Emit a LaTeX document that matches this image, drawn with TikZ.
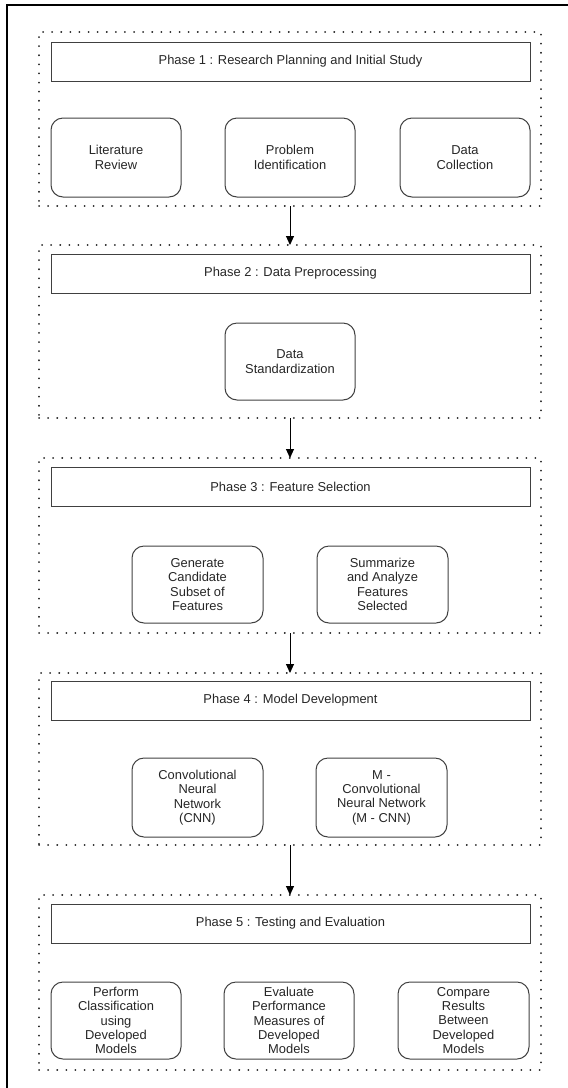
\documentclass[tikz,border=0pt]{standalone}
\usepackage{fontspec}
\setmainfont{Liberation Sans}
\usetikzlibrary{arrows.meta}
\begin{document}
\begin{tikzpicture}[x=1pt,y=-1pt,
 phase/.style={draw=black!85, line width=1.9pt, line cap=round, dash pattern=on 0.1pt off 9pt, anchor=north west, inner sep=0pt, outer sep=0pt, minimum width=502pt},
 title/.style={draw=black!75, line width=1pt, anchor=north west, inner sep=0pt, outer sep=0pt, minimum width=479pt, minimum height=39pt, font=\fontsize{12.9}{14.4}\selectfont, text=black!85},
 task/.style={draw=black!75, line width=1pt, rounded corners=12pt, anchor=north west, inner sep=0pt, outer sep=0pt, minimum height=79pt, align=center, font=\fontsize{12.9}{14.4}\selectfont, text=black!85},
 arr/.style={-{Triangle[width=8pt,length=9pt]}, line width=1pt, black}
]
\useasboundingbox (0,0) rectangle (568,1088);
\draw[line width=1.5pt, black] (7,1090) -- (7,5) -- (570,5);

% Phase 1
\node[phase, minimum height=174pt] (p1) at (39,32) {};
\node[title] (t1) at (51,42) {Phase 1 : Research Planning and Initial Study};
\node[task, minimum width=130pt] (a1) at (51,118) {Literature\\Review};
\node[task, minimum width=130pt] (a2) at (225,118) {Problem\\Identification};
\node[task, minimum width=130pt] (a3) at (400,118) {Data\\Collection};

% Phase 2
\node[phase, minimum height=173pt] (p2) at (39,245) {};
\node[title] (t2) at (51,254) {Phase 2 : Data Preprocessing};
\node[task, minimum width=130pt, minimum height=77pt] (b1) at (225,323) {Data\\Standardization};

% Phase 3
\node[phase, minimum height=175pt] (p3) at (39,458) {};
\node[title] (t3) at (51,467) {Phase 3 : Feature Selection};
\node[task, minimum width=131pt, minimum height=77pt] (c1) at (132,546) {Generate\\Candidate\\Subset of\\Features};
\node[task, minimum width=131pt, minimum height=77pt] (c2) at (317,546) {Summarize\\and Analyze\\Features\\Selected};

% Phase 4
\node[phase, minimum height=172pt] (p4) at (39,673) {};
\node[title] (t4) at (51,681) {Phase 4 : Model Development};
\node[task, minimum width=131pt] (d1) at (132,758) {Convolutional\\Neural\\Network\\(CNN)};
\node[task, minimum width=131pt] (d2) at (316,758) {M -\\Convolutional\\Neural Network\\(M - CNN)};

% Phase 5
\node[phase, minimum height=175pt] (p5) at (39,895) {};
\node[title] (t5) at (51,904) {Phase 5 : Testing and Evaluation};
\node[task, minimum width=130pt, minimum height=77pt] (e1) at (51,982) {Perform\\Classification\\using\\Developed\\Models};
\node[task, minimum width=130pt, minimum height=77pt] (e2) at (224,982) {Evaluate\\Performance\\Measures of\\Developed\\Models};
\node[task, minimum width=131pt, minimum height=77pt] (e3) at (398,982) {Compare\\Results\\Between\\Developed\\Models};

% Arrows
\draw[arr] (p1.south) -- (p2.north);
\draw[arr] (p2.south) -- (p3.north);
\draw[arr] (p3.south) -- (p4.north);
\draw[arr] (p4.south) -- (p5.north);
\end{tikzpicture}
\end{document}
